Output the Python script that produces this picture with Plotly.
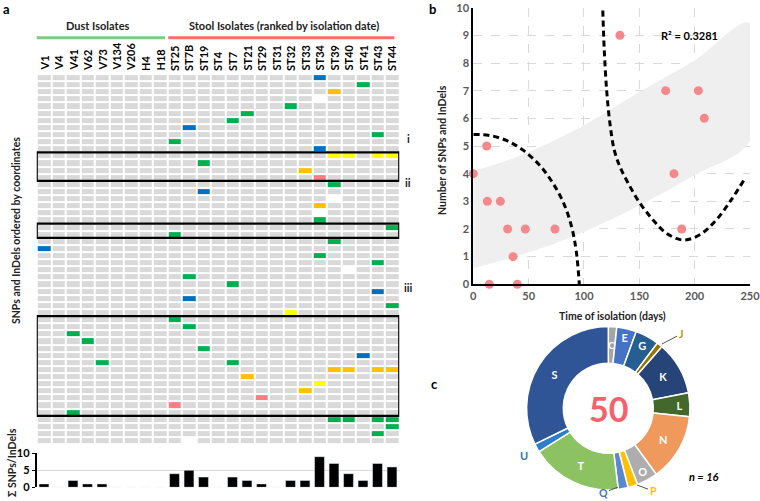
import plotly.graph_objects as go
import numpy as np

W, H = 760, 501
FONT = "Lato"

# ---------------- Panel a data ----------------
columns = ["V1", "V4", "V41", "V62", "V73", "V134", "V206", "H4", "H18",
           "ST25", "ST7B", "ST19", "ST4", "ST7", "ST21", "ST29", "ST31", "ST32",
           "ST33", "ST34", "ST39", "ST40", "ST41", "ST43", "ST44"]
n_variant_rows = 52

green_cells = [(2, "ST41"), (5, "ST32"), (6, "ST21"), (7, "ST7"), (9, "ST43"), (10, "ST25"),
               (13, "ST19"), (16, "ST39"), (21, "ST34"), (22, "ST44"), (23, "ST25"), (24, "ST39"),
               (26, "ST34"), (27, "ST43"), (29, "ST7B"), (30, "ST7"), (33, "ST44"), (35, "ST25"),
               (36, "ST7B"), (37, "V41"), (38, "V62"), (39, "ST19"), (41, "V73"), (41, "ST7"),
               (48, "V41"), (49, "ST39"), (49, "ST40"), (49, "ST43"), (49, "ST44"), (50, "ST44"),
               (51, "ST43")]
blue_cells = [(1, "ST34"), (8, "ST7B"), (11, "ST34"), (17, "ST19"), (25, "V1"), (31, "ST43"),
              (32, "ST7B"), (40, "ST41")]
orange_cells = [(3, "ST39"), (14, "ST33"), (19, "ST34"), (42, "ST39"), (42, "ST40"), (42, "ST43"),
                (42, "ST44"), (43, "ST21"), (45, "ST33")]
yellow_cells = [(12, "ST39"), (12, "ST40"), (12, "ST43"), (12, "ST44"), (34, "ST32"), (44, "ST34")]
pink_cells = [(15, "ST34"), (46, "ST29"), (47, "ST25")]
deleted_cells = [(4, "ST34"), (18, "ST39"), (20, "ST34"), (28, "ST40"), (52, "ST7B")]

boxed_row_ranges = [(12, 15), (22, 23), (35, 48)]
roman_labels = ["i", "ii", "iii"]
roman_rows = [9.5, 15.7, 30.5]

snp_counts = [1, 0, 2, 1, 1, 0, 0, 0, 0, 4, 5, 3, 0, 3, 2, 1, 0, 2, 2, 9, 7, 4, 2, 7, 6]

# ---------------- Panel b data ----------------
days = [132.5, 173.8, 203.3, 208.7, 12.1, 0, 181.3, 12.7, 24.4, 31, 47, 73.8, 188.3, 35.9, 14.5, 39.8]
snps = [9, 7, 7, 6, 5, 4, 4, 3, 3, 2, 2, 2, 2, 1, 0, 0]

band_x = [0, 25, 54, 100, 150, 200, 250]
band_upper = [4.1, 4.4, 4.85, 5.75, 6.95, 8.1, 9.45]
band_lower = [0.58, 0.85, 1.2, 1.9, 2.85, 3.95, 5.2]

curve1_x = [0, 15, 30, 45, 60, 72, 82, 89, 93, 95.8]
curve1_y = [5.42, 5.38, 5.2, 4.85, 4.3, 3.65, 2.9, 2.05, 1.2, 0]
curve2_x = [117, 118.3, 120.5, 123.5, 127.4, 132.5, 140, 150.6, 162.6, 174.7, 189.7, 205, 220, 233, 245.5]
curve2_y = [9.9, 8.5, 7.0, 5.8, 4.85, 4.25, 3.65, 2.93, 2.32, 1.84, 1.6, 1.8, 2.35, 3.05, 3.83]

# ---------------- Panel c data ----------------
cog_labels = ["C", "E", "G", "J", "K", "L", "N", "O", "P", "Q", "T", "U", "S"]
cog_values = [6, 14, 17, 4, 38, 17, 48, 15, 7, 7, 65, 6, 116]
cog_colors = ["#A5A5A5", "#4472C4", "#255E91", "#997300", "#264478", "#43682B", "#F0995C",
              "#ADADAD", "#FFC000", "#5B87D0", "#8DC262", "#2E7FC8", "#2F5597"]
cog_inside_text = ["", "E", "G", "", "K", "L", "N", "O", "", "", "T", "", "S"]
total_label = "50"
n_label = "n = 16"

# ---------------- geometry helpers ----------------
def px_x(p):
    return p / W

def px_y(p):
    return 1 - p / H

grid_x0, grid_x1 = 36.75, 399.25
grid_y0, grid_y1 = 74.1, 444.3
pie_cx, pie_cy, pie_r_out, pie_r_in = 608.3, 408.3, 81.7, 45.0

fig = go.Figure()

# heatmap matrix
z = np.zeros((n_variant_rows, len(columns)))
for code, cells in enumerate([green_cells, blue_cells, orange_cells, yellow_cells, pink_cells], start=1):
    for r, c in cells:
        z[r - 1, columns.index(c)] = code
for r, c in deleted_cells:
    z[r - 1, columns.index(c)] = np.nan

cs = [[0, "#D9D9D9"], [0.1, "#D9D9D9"], [0.1, "#00B050"], [0.3, "#00B050"],
      [0.3, "#0070C0"], [0.5, "#0070C0"], [0.5, "#FFC000"], [0.7, "#FFC000"],
      [0.7, "#FFFF00"], [0.9, "#FFFF00"], [0.9, "#FF7C80"], [1, "#FF7C80"]]

fig.add_trace(go.Heatmap(z=z, x=list(range(len(columns))), y=list(range(1, n_variant_rows + 1)),
                         colorscale=cs, zmin=0, zmax=5, showscale=False, xgap=2, ygap=2,
                         hoverinfo="skip", xaxis="x", yaxis="y"))

fig.add_trace(go.Bar(x=list(range(len(columns))), y=snp_counts, marker_color="black",
                     width=0.68, xaxis="x2", yaxis="y2", showlegend=False))

# panel b
fig.add_trace(go.Scatter(x=band_x + band_x[::-1], y=band_upper + band_lower[::-1], fill="toself",
                         fillcolor="#EFEFEF", line=dict(width=0, shape="spline"), mode="lines",
                         xaxis="x3", yaxis="y3", showlegend=False, hoverinfo="skip"))
fig.add_trace(go.Scatter(x=curve1_x, y=curve1_y, mode="lines",
                         line=dict(color="black", width=3, dash="6px,4px", shape="spline"),
                         xaxis="x3", yaxis="y3", showlegend=False, cliponaxis=False))
fig.add_trace(go.Scatter(x=curve2_x, y=curve2_y, mode="lines",
                         line=dict(color="black", width=3, dash="6px,4px", shape="spline"),
                         xaxis="x3", yaxis="y3", showlegend=False, cliponaxis=False))
fig.add_trace(go.Scatter(x=days, y=snps, mode="markers",
                         marker=dict(color="#F4888B", size=9),
                         xaxis="x3", yaxis="y3", showlegend=False, cliponaxis=False))

# panel c
fig.add_trace(go.Pie(labels=cog_labels, values=cog_values, sort=False, direction="clockwise",
                     rotation=0, hole=pie_r_in / pie_r_out, text=cog_inside_text, textinfo="text",
                     textposition="inside", insidetextorientation="horizontal",
                     marker=dict(colors=cog_colors, line=dict(color="white", width=1.5)),
                     textfont=dict(color="white", size=11, family=FONT, weight="bold"),
                     domain=dict(x=[px_x(pie_cx - pie_r_out), px_x(pie_cx + pie_r_out)],
                                 y=[px_y(pie_cy + pie_r_out), px_y(pie_cy - pie_r_out)]),
                     showlegend=False))

annotations = []
shapes = []


def label(text, x, y, size=11, color="#222", angle=0, xanchor="center", yanchor="middle",
          xref="paper", yref="paper"):
    annotations.append(dict(x=x, y=y, xref=xref, yref=yref, text=text, textangle=angle,
                            showarrow=False, xanchor=xanchor, yanchor=yanchor,
                            font=dict(size=size, family=FONT, color=color)))


# column labels
for i, c in enumerate(columns):
    label(f"<b>{c}</b>", i, px_y(73), color="black", angle=-90, yanchor="bottom", xref="x")

# headers
label("<b>Dust Isolates</b>", px_x(97.5), px_y(25.5))
label("<b>Stool Isolates (ranked by isolation date)</b>", px_x(284), px_y(25.5))
shapes.append(dict(type="line", xref="paper", yref="paper", x0=px_x(36.7), x1=px_x(165),
                   y0=px_y(37.7), y1=px_y(37.7), line=dict(color="#7DCB80", width=3)))
shapes.append(dict(type="line", xref="paper", yref="paper", x0=px_x(168.3), x1=px_x(394.3),
                   y0=px_y(37.7), y1=px_y(37.7), line=dict(color="#FF6B6B", width=3)))

# boxes
for r0, r1 in boxed_row_ranges:
    shapes.append(dict(type="rect", xref="x", yref="y", x0=-0.5, x1=len(columns) - 0.5,
                       y0=r0 - 0.5, y1=r1 + 0.5, line=dict(color="black", width=2.2)))

for lab, rr in zip(roman_labels, roman_rows):
    label(f"<b>{lab}</b>", px_x(408), rr, yref="y")

label("<b>SNPs and InDels ordered by coordinates</b>", px_x(16), px_y(231), size=10.5, angle=-90)
label("<b>Σ SNPs/InDels</b>", px_x(12), px_y(463), size=10.5, angle=-90)

# panel labels
for lab, xx, yy in [("a", 7, 9), ("b", 432, 9), ("c", 434, 384)]:
    label(f"<b>{lab}</b>", px_x(xx), px_y(yy), size=13, color="black")

# panel b titles
label("<b>Number of SNPs and InDels</b>", px_x(442), px_y(150), size=10.5, angle=-90)
label("<b>Time of isolation (days)</b>", px_x(612), px_y(316), size=10.5)
label("<b>R² = 0.3281</b>", 195, 9.0, color="black", xref="x3", yref="y3")

# panel c annotations
label(f"<b>{total_label}</b>", px_x(pie_cx), px_y(pie_cy), size=34, color="#F5626A")
label(f"<b><i>{n_label}</i></b>", px_x(704), px_y(476), color="black")

# label for the narrow first slice (C), placed at its mid-angle on the ring
mid_angle = np.deg2rad(360 * (cog_values[0] / 2) / sum(cog_values))
r_mid = (pie_r_in + pie_r_out) / 2
label("<b>C</b>", px_x(pie_cx + r_mid * np.sin(mid_angle)),
      px_y(pie_cy - r_mid * np.cos(mid_angle)), size=10, color="white")

for lab, col, hx, hy, ax, ay in [("J", "#BF9000", 662, 344, 19, -10),
                                 ("P", "#FFC000", 637, 485, 16, 6),
                                 ("Q", "#4472C4", 618, 487, -15, 6)]:
    annotations.append(dict(x=px_x(hx), y=px_y(hy), xref="paper", yref="paper",
                            text=f"<b>{lab}</b>", showarrow=True, arrowhead=0, arrowwidth=1,
                            arrowcolor="#555", ax=ax, ay=ay, standoff=0,
                            font=dict(size=10.5, family=FONT, color=col)))
label("<b>U</b>", px_x(524), px_y(455), color="#2E75B6")

fig.update_layout(
    width=W, height=H, margin=dict(l=0, r=0, t=0, b=0, pad=0, autoexpand=False),
    paper_bgcolor="white", plot_bgcolor="rgba(0,0,0,0)",
    font=dict(family=FONT),
    showlegend=False,
    annotations=annotations, shapes=shapes,
    xaxis=dict(domain=[px_x(grid_x0), px_x(grid_x1)], range=[-0.5, len(columns) - 0.5],
               showticklabels=False, showgrid=False, zeroline=False, anchor="y", automargin=False),
    yaxis=dict(domain=[px_y(grid_y1), px_y(grid_y0)], range=[n_variant_rows + 0.5, 0.5],
               showticklabels=False, showgrid=False, zeroline=False, anchor="x", automargin=False),
    xaxis2=dict(domain=[px_x(grid_x0), px_x(grid_x1)], range=[-0.5, len(columns) - 0.5],
                showticklabels=False, showgrid=False, zeroline=False, anchor="y2", automargin=False),
    yaxis2=dict(domain=[px_y(487.3), px_y(453.3)], range=[0, 10], tickvals=[0, 5, 10],
                showgrid=True, gridcolor="#D9D9D9", zeroline=False, showline=True,
                linecolor="black", linewidth=2, ticks="outside", ticklen=3, tickcolor="black",
                tickfont=dict(size=11, family=FONT, color="black", weight="bold"),
                anchor="x2", automargin=False, ticklabeloverflow="allow"),
    xaxis3=dict(domain=[px_x(473.3), px_x(750)], range=[0, 250], dtick=50, anchor="y3",
                showgrid=True, gridcolor="#D9D9D9", griddash="dash", zeroline=False,
                showline=True, linecolor="black", linewidth=2, ticks="", automargin=False,
                ticklabeloverflow="allow",
                tickfont=dict(size=11, family=FONT, color="#595959", weight="bold")),
    yaxis3=dict(domain=[px_y(284.3), px_y(7.7)], range=[0, 10], dtick=1, anchor="x3",
                showgrid=True, gridcolor="#D9D9D9", griddash="dash", zeroline=False,
                showline=True, linecolor="black", linewidth=2, ticks="", automargin=False,
                ticklabeloverflow="allow",
                tickfont=dict(size=11, family=FONT, color="#595959", weight="bold")),
)

fig.write_html("out.html", config={"displayModeBar": False},
               post_script="document.body.style.margin='0';")
